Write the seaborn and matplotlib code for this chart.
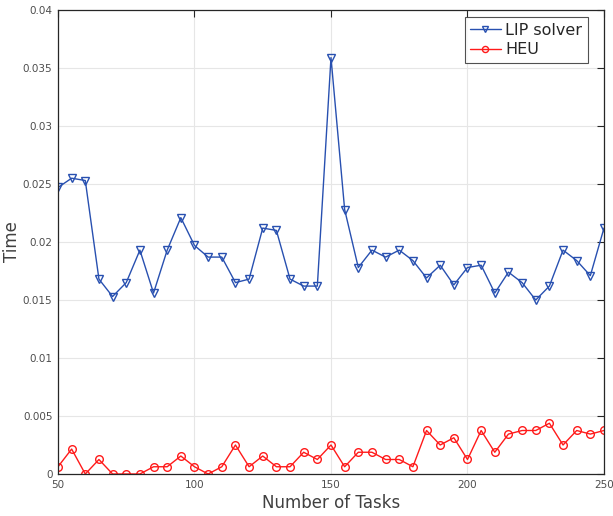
import numpy as np
import pandas as pd
import matplotlib
matplotlib.use("Agg")
import matplotlib.pyplot as plt
import seaborn as sns

tasks = list(range(50, 251, 5))

lip_solver = [0.0247, 0.0255, 0.0253, 0.0168, 0.0153, 0.0165, 0.0193, 0.0156, 0.0193, 0.0221,
              0.0197, 0.0187, 0.0187, 0.0165, 0.0168, 0.0212, 0.0210, 0.0168, 0.0162, 0.0162,
              0.0359, 0.0228, 0.0178, 0.0193, 0.0187, 0.0193, 0.0184, 0.0169, 0.0180, 0.0163,
              0.0178, 0.0180, 0.0156, 0.0174, 0.0165, 0.0150, 0.0162, 0.0193, 0.0184, 0.0171,
              0.0212]

heu = [0.000625, 0.00215, 0.0, 0.00125, 0.0, 0.0, 0.0, 0.000625, 0.000625, 0.00155,
       0.000625, 0.0, 0.000625, 0.0025, 0.000625, 0.00155, 0.000625, 0.000625, 0.001875, 0.00125,
       0.0025, 0.000625, 0.001875, 0.001875, 0.00125, 0.00125, 0.000625, 0.00375, 0.0025, 0.003125,
       0.00125, 0.00375, 0.001875, 0.00344, 0.00375, 0.00375, 0.004375, 0.0025, 0.00375, 0.00344,
       0.00375]

series_names = ["LIP solver", "HEU"]

df = pd.DataFrame({
    "tasks": tasks * 2,
    "time": lip_solver + heu,
    "method": [series_names[0]] * len(tasks) + [series_names[1]] * len(tasks),
})

sns.set_style("white")
plt.rcParams["font.family"] = ["DejaVu Sans"]

fig = plt.figure(figsize=(6.13, 5.16), dpi=100)
ax = fig.add_axes([0.0946, 0.0814, 0.8907, 0.8992])

palette = {"LIP solver": "#2850B0", "HEU": "#FF1A1A"}
markers = {"LIP solver": "v", "HEU": "o"}

for name in series_names:
    sub = df[df["method"] == name]
    sns.lineplot(data=sub, x="tasks", y="time", ax=ax, color=palette[name],
                 marker=markers[name], markersize=5.5, markerfacecolor="none",
                 markeredgecolor=palette[name], markeredgewidth=1.0,
                 linewidth=1.0, label=name)

ax.set_xlim(50, 250)
ax.set_ylim(0, 0.04)
ax.set_xticks([50, 100, 150, 200, 250])
ax.set_yticks(np.arange(0, 0.0401, 0.005))
ax.set_yticklabels(["0", "0.005", "0.01", "0.015", "0.02", "0.025", "0.03", "0.035", "0.04"])

ax.grid(True, color="#E6E6E6", linewidth=0.8)
ax.set_axisbelow(True)
for s in ax.spines.values():
    s.set_visible(True)
    s.set_color("#262626")
    s.set_linewidth(0.9)
ax.tick_params(direction="in", length=5, width=0.8, colors="#262626",
               labelsize=7.5, labelcolor="#4D4D4D", top=True, right=True, pad=4)

ax.set_xlabel("Number of Tasks", fontsize=12, color="#404040", labelpad=3)
ax.set_ylabel("Time", fontsize=12, color="#404040")
ax.yaxis.set_label_coords(-0.068, 0.5)

leg = ax.legend(loc="upper right", bbox_to_anchor=(0.9707, 0.985), fontsize=11.5,
                frameon=True, fancybox=False, edgecolor="#262626", handlelength=1.9,
                borderpad=0.35, labelspacing=0.3, handletextpad=0.3, borderaxespad=0,
                markerscale=0.8)
leg.get_frame().set_linewidth(0.8)

fig.savefig("out.png", dpi=100)
